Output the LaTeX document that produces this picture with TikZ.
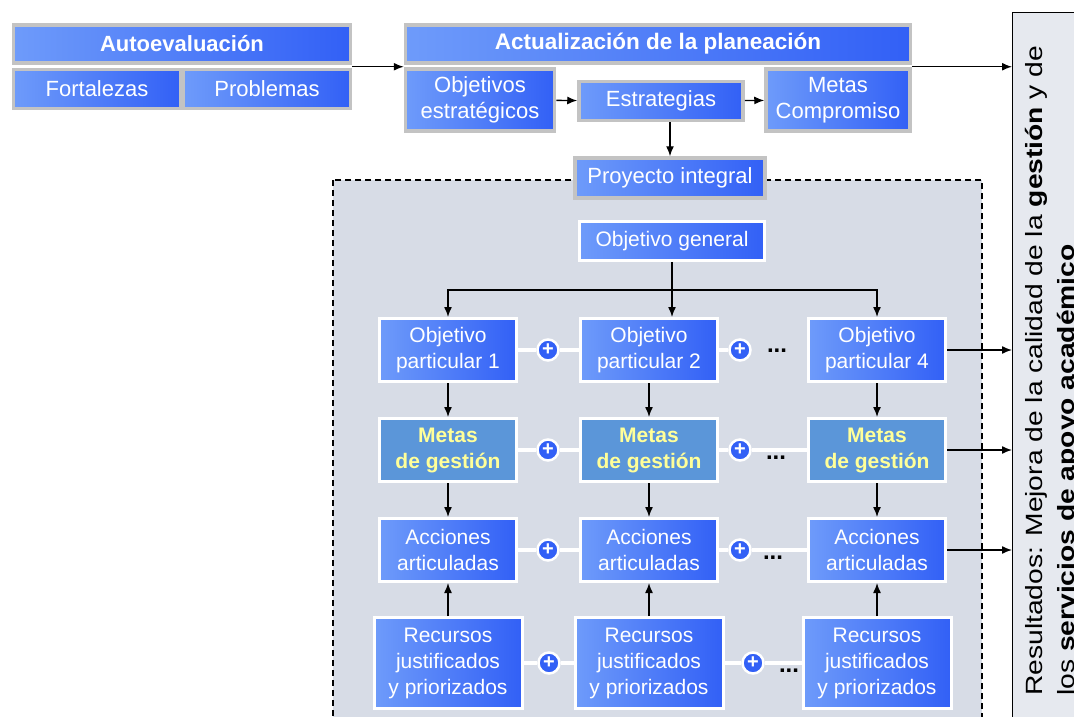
\documentclass[tikz,border=0pt]{standalone}
\usepackage{fontspec}
\setmainfont{Liberation Sans}
\usetikzlibrary{arrows.meta}
\definecolor{boxlight}{HTML}{6E9BFA}
\definecolor{boxdark}{HTML}{3260F6}
\definecolor{metafill}{HTML}{5B96D9}
\definecolor{metatext}{HTML}{FFFF99}
\definecolor{panel}{HTML}{D7DCE6}
\definecolor{rim}{HTML}{C3C3C3}
\definecolor{resfill}{HTML}{E6E9EF}
\tikzset{
  basebox/.style={left color=boxlight, right color=boxdark, text=white, align=center,
    inner sep=0pt, font=\fontsize{21}{26}\selectfont},
  topbox/.style={basebox, draw=rim, line width=3.5pt, font=\fontsize{22}{26}\selectfont},
  cellbox/.style={basebox, draw=white, line width=3pt, minimum width=137pt, minimum height=63pt},
  metabox/.style={cellbox, left color=metafill, right color=metafill, text=metatext,
    font=\bfseries\fontsize{21}{26}\selectfont},
  resbox/.style={cellbox, minimum width=148pt, minimum height=91pt},
  plusdot/.style={circle, draw=white, line width=2.5pt, fill=boxdark, minimum size=21pt,
    inner sep=0pt, text=white, font=\bfseries\fontsize{20}{20}\selectfont},
  link/.style={white, line width=4pt},
  arr/.style={-{Latex[length=10pt,width=8pt]}, line width=1.4pt},
  restext/.style={rotate=90, xscale=1.2, anchor=base west, font=\fontsize{23.5}{28}\selectfont}
}
\begin{document}
\begin{tikzpicture}[x=1pt, y=-1pt]
  \useasboundingbox (0,0) rectangle (1074,717);
  % fondo del proyecto integral
  \draw[dash pattern=on 6pt off 4pt, line width=1.3pt, fill=panel] (333,180) rectangle (982,760);
  % resultados
  \node[draw, line width=1.2pt, fill=resfill, minimum width=120pt, minimum height=760pt,
    anchor=north west] (res) at (1012,12) {};
  \node[restext] (resa) at (1042,700) {Resultados: Mejora de la calidad de la \textbf{gestión} y de};
  \node[restext] (resb) at (1074,700) {los \textbf{servicios de apoyo académico}};

  % planeacion
  \node[topbox, minimum width=337pt, minimum height=38pt, font=\bfseries\fontsize{22}{26}\selectfont]
    (auto) at (182,44) {Autoevaluación};
  \node[topbox, minimum width=167pt, minimum height=39pt] (fort) at (97,89) {Fortalezas};
  \node[topbox, minimum width=167pt, minimum height=39pt] (prob) at (267,89) {Problemas};
  \node[topbox, minimum width=505pt, minimum height=38pt, font=\bfseries\fontsize{22.5}{26}\selectfont]
    (act) at (658,44) {Actualización de la planeación};
  \node[topbox, minimum width=149pt, minimum height=62pt] (objest) at (480,100) {Objetivos\\estratégicos};
  \node[topbox, minimum width=164pt, minimum height=39pt] (estr) at (661,101) {Estrategias};
  \node[topbox, minimum width=144pt, minimum height=62pt] (metas) at (838,100) {Metas\\Compromiso};
  \node[topbox, minimum width=190pt, minimum height=40pt] (proy) at (670,178) {Proyecto integral};
  \node[cellbox, minimum width=185pt, minimum height=39pt] (objgen) at (672,241) {Objetivo general};

  % columnas
  \foreach \i/\x/\n in {1/448/1, 2/649/2, 3/877/4} {
    \node[cellbox] (op\i) at (\x,350) {Objetivo\\particular \n};
    \node[metabox] (mg\i) at (\x,450) {Metas\\de gestión};
    \node[cellbox] (ac\i) at (\x,550) {Acciones\\articuladas};
    \node[resbox] (re\i) at (\x,663) {Recursos\\justificados\\y priorizados};
  }

  % sumas
  \foreach \r/\y/\xa/\xb/\xd/\dy in {op/350/548/740/777/1, mg/450/548/740/776/8, ac/550/548/740/773/8, re/663/549/753/789/8} {
    \node[plusdot] (\r-plus1) at (\xa,\y) {+};
    \node[plusdot] (\r-plus2) at (\xb,\y) {+};
    \draw[link] (\r1) -- (\r-plus1) -- (\r2) -- (\r-plus2);
    \node[font=\bfseries\fontsize{24}{24}\selectfont] (\r-dots) at (\xd,\y+\dy) {...};
  }
  \foreach \r in {mg, ac, re}
    \draw[link] (\r-plus2) -- (\r3);

  % flechas
  \draw[arr] ([yshift=-2pt]auto.south east) -- ([yshift=-2pt]act.south west);
  \draw[arr] ([yshift=-2pt]act.south east) -- ([yshift=-2pt]act.south east -| res.west);
  \draw[arr] (objest) -- (estr);
  \draw[arr] (estr) -- (metas);
  \draw[arr] (proy.north |- estr.south) -- (proy.north);
  \coordinate (bus) at (0,290);
  \draw[arr] (objgen.south) -- (objgen.south |- op2.north);
  \draw[arr] (objgen.south |- bus) -| (op1.north);
  \draw[arr] (objgen.south |- bus) -| (op3.north);
  \foreach \i in {1,2,3} {
    \draw[arr] (op\i) -- (mg\i);
    \draw[arr] (mg\i) -- (ac\i);
    \draw[arr] (re\i) -- (ac\i);
  }
  \foreach \r in {op, mg, ac}
    \draw[arr] (\r3.east) -- (\r3.east -| res.west);
\end{tikzpicture}
\end{document}
